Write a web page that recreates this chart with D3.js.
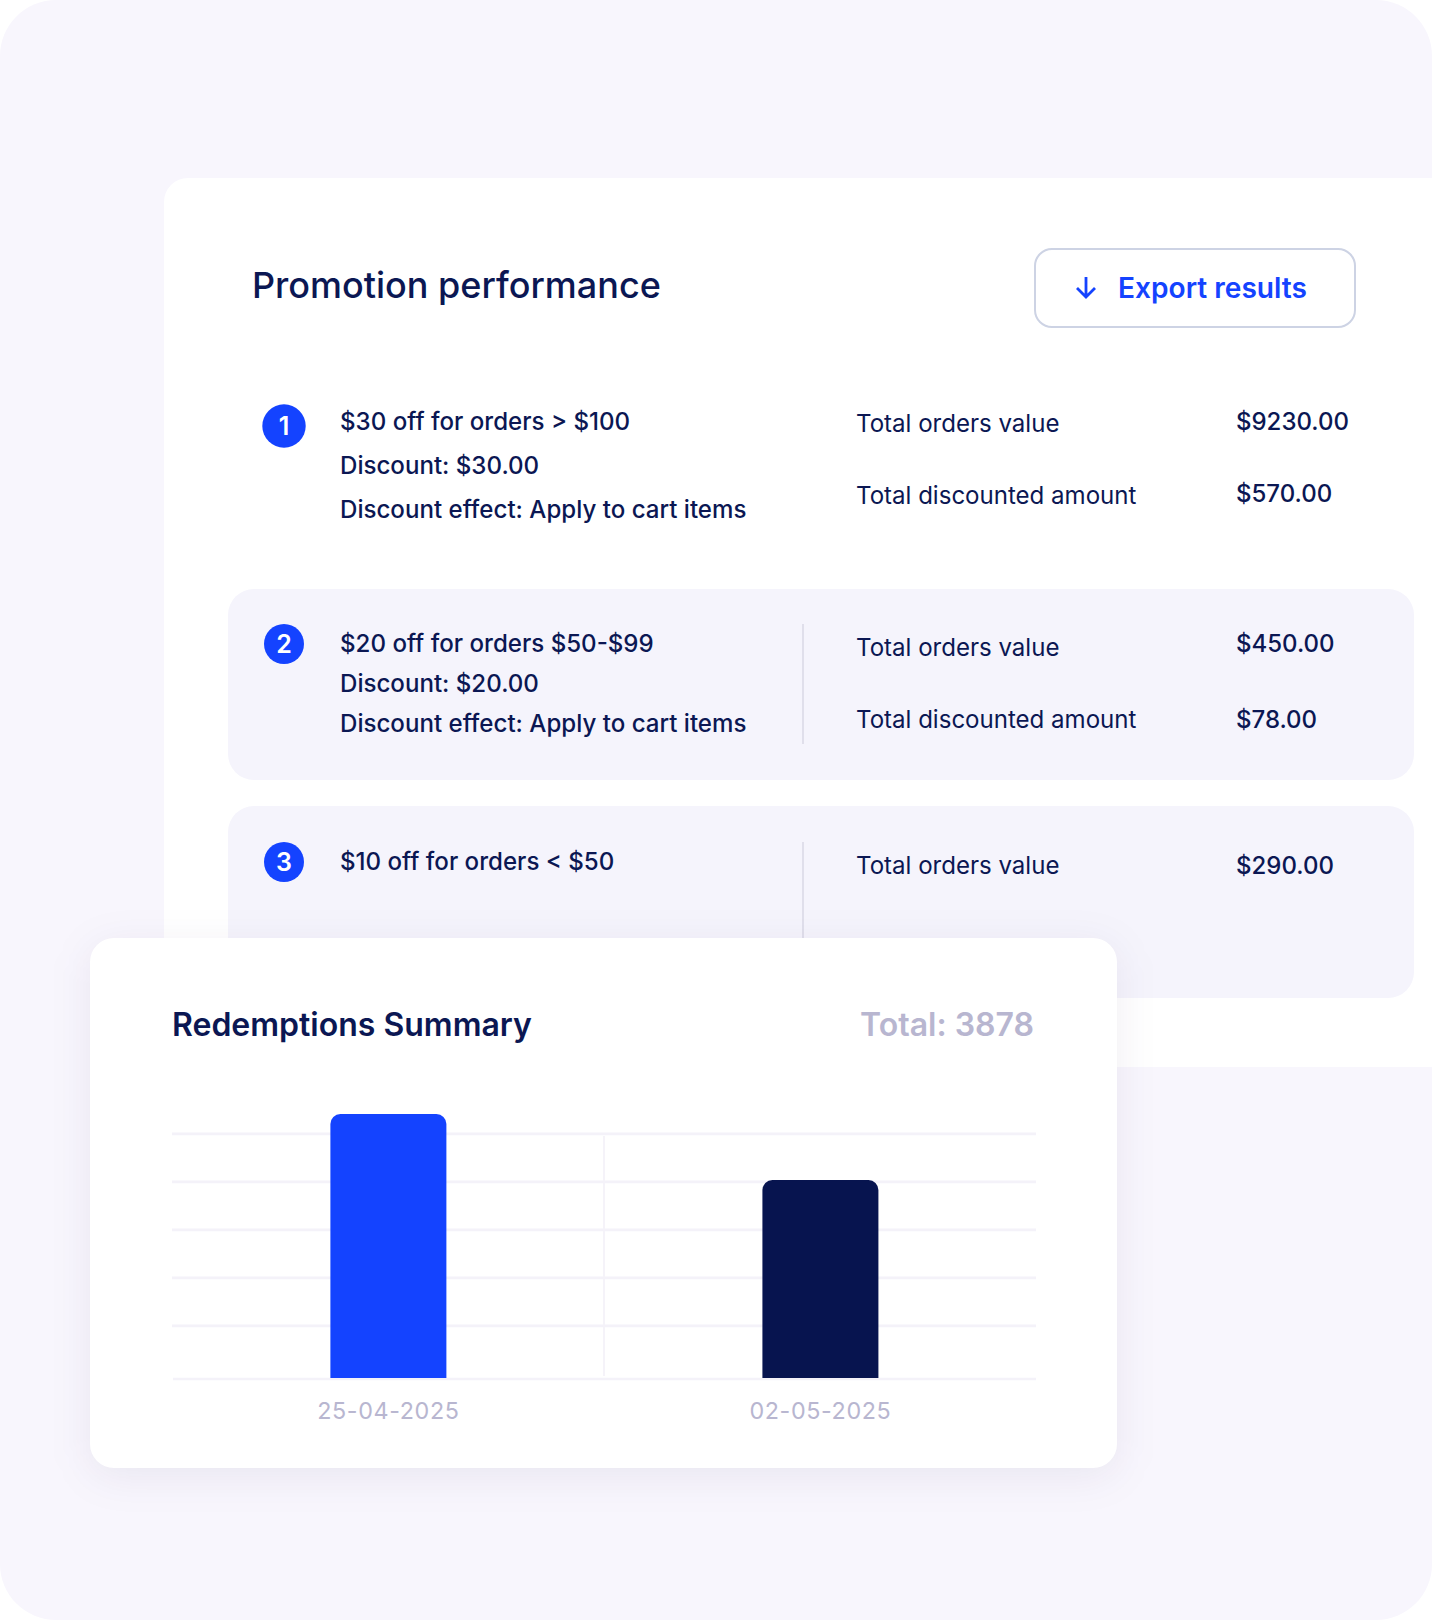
<!DOCTYPE html>
<html>
<head>
<meta charset="utf-8">
<script src="https://cdn.jsdelivr.net/npm/d3@7"></script>
<style>
html,body{margin:0;padding:0;background:#fff}
svg{display:block}
text{font-family:Inter,"Noto Sans",sans-serif}
</style>
</head>
<body>
<svg id="c" width="1432" height="1620"></svg>
<script>
const pageTitle = "Promotion performance";
const buttonLabel = "Export results";
const ruleNumbers = ["1", "2", "3"];
const ruleLines = [
  ["$30 off for orders > $100", "Discount: $30.00", "Discount effect: Apply to cart items"],
  ["$20 off for orders $50-$99", "Discount: $20.00", "Discount effect: Apply to cart items"],
  ["$10 off for orders < $50"]
];
const metricLabels = [
  ["Total orders value", "Total discounted amount"],
  ["Total orders value", "Total discounted amount"],
  ["Total orders value"]
];
const metricValues = [
  ["$9230.00", "$570.00"],
  ["$450.00", "$78.00"],
  ["$290.00"]
];
const chartTitle = "Redemptions Summary";
const chartTotal = "Total: 3878";
const dates = ["25-04-2025", "02-05-2025"];
const redemptions = [2216, 1662];
const gridLevels = [442, 845, 1248, 1651, 2054];

const NAVY = "#0b1753", BLUE = "#1443ff", GREY = "#b8b6d0", GRID = "#f4f2f9";
const svg = d3.select("#c");
const defs = svg.append("defs");
const f = defs.append("filter").attr("id","sh").attr("color-interpolation-filters","sRGB").attr("x","-20%").attr("y","-20%").attr("width","140%").attr("height","145%");
f.append("feGaussianBlur").attr("stdDeviation",20);

svg.append("rect").attr("width",1432).attr("height",1620).attr("rx",56).attr("fill","#f8f6fd");
svg.append("path").attr("d","M1432 178H188a24 24 0 0 0-24 24V1067H1432Z").attr("fill","#fff");

svg.append("text").text(pageTitle).attr("x",252).attr("y",298).attr("font-size",36).attr("font-weight",500).attr("fill",NAVY);

const btn = svg.append("g");
btn.append("rect").attr("x",1035).attr("y",249).attr("width",320).attr("height",78).attr("rx",17).attr("fill","#fff").attr("stroke","#cdd3e4").attr("stroke-width",2);
btn.append("path").attr("d","M1086 277V297M1077 288L1086 297L1095 288").attr("fill","none").attr("stroke",BLUE).attr("stroke-width",2.8);
btn.append("text").text(buttonLabel).attr("x",1118).attr("y",298).attr("font-size",28.1).attr("font-weight",600).attr("fill",BLUE);

const rowBox = [[228,589,1186,191],[228,806,1186,192]];
svg.selectAll("rect.row").data(rowBox).join("rect").attr("class","row")
  .attr("x",d=>d[0]).attr("y",d=>d[1]).attr("width",d=>d[2]).attr("height",d=>d[3]).attr("rx",26).attr("fill","#f5f4fc");
svg.append("line").attr("x1",803).attr("x2",803).attr("y1",624).attr("y2",744).attr("stroke","#d9d9e6").attr("stroke-width",1.5);
svg.append("line").attr("x1",803).attr("x2",803).attr("y1",842).attr("y2",945).attr("stroke","#d9d9e6").attr("stroke-width",1.5);

const circles = [[426,21.7],[644,20],[862,20]];
const lineY = [[430,474,518],[652,692,732],[870]];
const labelY = [[432,504],[656,728],[874]];
const valueY = [[430,502],[652,728],[874]];
ruleNumbers.forEach((n,i)=>{
  const g = svg.append("g");
  g.append("circle").attr("cx",284).attr("cy",circles[i][0]).attr("r",circles[i][1]).attr("fill",BLUE);
  g.append("text").text(n).attr("x",284).attr("y",circles[i][0]+9).attr("text-anchor","middle").attr("font-size",25).attr("font-weight",600).attr("fill","#fff");
  g.selectAll("text.r").data(ruleLines[i]).join("text").attr("class","r").text(d=>d)
    .attr("x",340).attr("y",(d,j)=>lineY[i][j]).attr("font-size",24.1).attr("font-weight",500).attr("fill",NAVY);
  g.selectAll("text.l").data(metricLabels[i]).join("text").attr("class","l").text(d=>d)
    .attr("x",856).attr("y",(d,j)=>labelY[i][j]).attr("font-size",24.05).attr("font-weight",400).attr("fill",NAVY);
  g.selectAll("text.v").data(metricValues[i]).join("text").attr("class","v").text(d=>d)
    .attr("x",1236).attr("y",(d,j)=>valueY[i][j]).attr("font-size",24).attr("font-weight",500).attr("fill",NAVY);
});

// chart card
svg.append("rect").attr("x",90).attr("y",946).attr("width",1027).attr("height",530).attr("rx",24).attr("fill","#1a1440").attr("fill-opacity",0.07).attr("filter","url(#sh)");
svg.append("rect").attr("x",90).attr("y",938).attr("width",1027).attr("height",530).attr("rx",24).attr("fill","#fff");
svg.append("text").text(chartTitle).attr("x",172).attr("y",1036).attr("font-size",32).attr("font-weight",600).attr("fill",NAVY);
svg.append("text").text(chartTotal).attr("x",1034).attr("y",1036).attr("text-anchor","end").attr("font-size",32).attr("font-weight",600).attr("fill",GREY);

const x = d3.scaleBand().domain(dates).range([172.4,1036.4]).paddingInner(0.7315).paddingOuter(0.3657);
const y = d3.scaleLinear().domain([0,redemptions[0]]).range([1378,1114]);

const gridG = svg.append("g").call(d3.axisLeft(y).tickValues(gridLevels).tickSize(-864).tickFormat("")).attr("transform","translate(172,0)");
gridG.select(".domain").remove();
gridG.selectAll(".tick line").attr("stroke",GRID).attr("stroke-width",2.8);

svg.append("line").attr("x1",604).attr("x2",604).attr("y1",1136).attr("y2",1376).attr("stroke",GRID).attr("stroke-width",1.8);
svg.append("line").attr("x1",173).attr("x2",1036).attr("y1",y(0)+1).attr("y2",y(0)+1).attr("stroke",GRID).attr("stroke-width",2.4);

const barColor = d3.scaleOrdinal().domain(dates).range([BLUE,"#07144f"]);
const r = 10;
svg.selectAll("path.bar").data(dates).join("path").attr("class","bar")
  .attr("fill",d=>barColor(d))
  .attr("d",(d,i)=>{
    const x0=x(d), w=x.bandwidth(), t=y(redemptions[i]), b=y(0);
    return `M${x0} ${b}V${t+r}a${r} ${r} 0 0 1 ${r} ${-r}H${x0+w-r}a${r} ${r} 0 0 1 ${r} ${r}V${b}Z`;
  });

const ax = svg.append("g").attr("transform",`translate(0,${y(0)})`).call(d3.axisBottom(x).tickSize(0).tickPadding(24));
ax.select(".domain").remove();
ax.selectAll("text").attr("font-size",23.3).attr("font-family","Inter").attr("fill",GREY).attr("letter-spacing",0.62);
</script>
</body>
</html>
